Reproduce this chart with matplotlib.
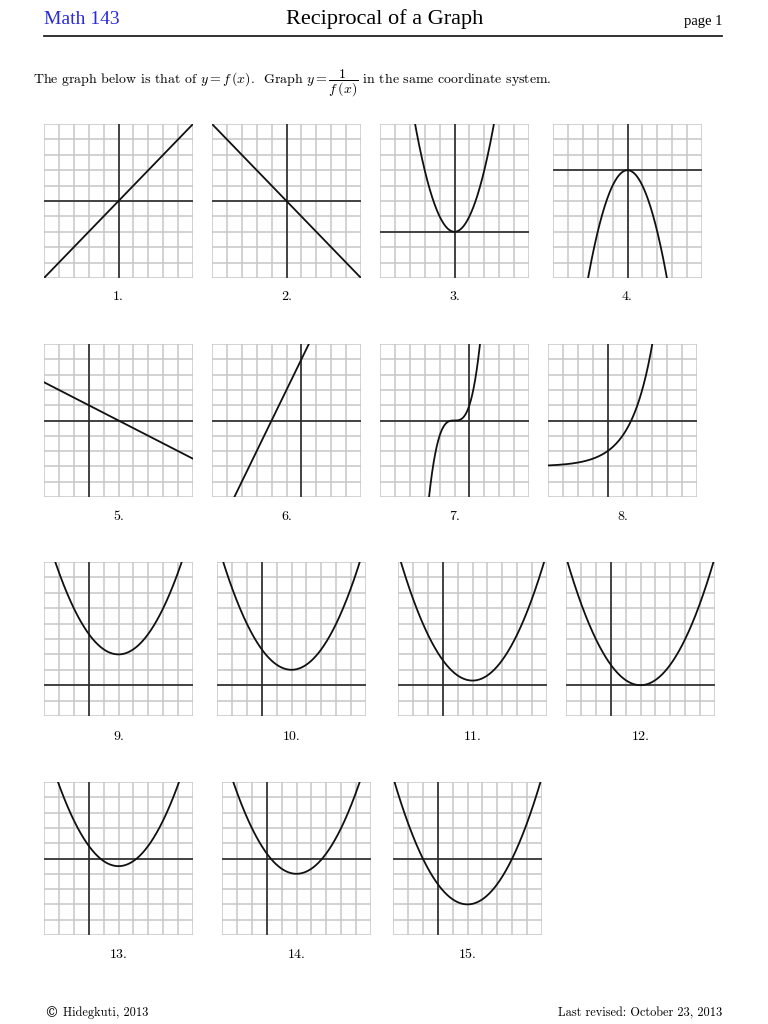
import numpy as np
import matplotlib
matplotlib.use("Agg")
import matplotlib.pyplot as plt
from matplotlib.lines import Line2D

plt.rcParams['mathtext.fontset'] = 'cm'
plt.rcParams['axes.unicode_minus'] = False

# ---------------- data ----------------
labels = ["1.", "2.", "3.", "4.", "5.", "6.", "7.", "8.",
          "9.", "10.", "11.", "12.", "13.", "14.", "15."]
# window of each coordinate grid (10 x 10 units)
x_min = [-5, -5, -5, -5, -3, -6, -6, -4, -3, -3, -3, -3, -3, -3, -3]
y_min = [-5, -5, -3, -7, -5, -5, -5, -5, -2, -2, -2, -2, -5, -5, -5]
# graphs 1, 2, 5, 6: lines y = m x + b
line_slope = [1, -1, -0.5, 2]
line_icept = [0, 0, 1, 4]
# graphs 3, 4: y = c x^2
parab_coef = [1, -1]
# graph 7: y = (x - h)^3
cubic_shift = -1
# graph 8: y = base^x + k
exp_base = 2
exp_shift = -3
# graphs 9-15: y = a (x - h)^2 + k
up_a = 1 / 3
up_h = 2
up_k = [2, 1, 0.3, 0, -0.5, -1, -3]

# ---------------- layout (pixels) ----------------
W, H = 768, 1024
row_top = [124, 344, 562, 782]
row_bot = [278, 497, 716, 935]
row_lab = [297, 517, 737, 955]
col_left = [[44, 212, 380, 553], [44, 212, 380, 548],
            [44, 217, 398, 566], [44, 222, 393]]
gw = 149

funcs = []
funcs.append(lambda x, i=0: line_slope[i] * x + line_icept[i])
funcs.append(lambda x, i=1: line_slope[i] * x + line_icept[i])
funcs.append(lambda x: parab_coef[0] * x ** 2)
funcs.append(lambda x: parab_coef[1] * x ** 2)
funcs.append(lambda x, i=2: line_slope[i] * x + line_icept[i])
funcs.append(lambda x, i=3: line_slope[i] * x + line_icept[i])
funcs.append(lambda x: (x - cubic_shift) ** 3)
funcs.append(lambda x: exp_base ** x + exp_shift)
for k in up_k:
    funcs.append(lambda x, k=k: up_a * (x - up_h) ** 2 + k)

fig = plt.figure(figsize=(W / 100, H / 100), dpi=100)

cm_fam = ['cmr10', 'DejaVu Serif']
grid_c = '#c6c6c6'

idx = 0
for r in range(4):
    for c, xl in enumerate(col_left[r]):
        top, bot = row_top[r], row_bot[r]
        ax = fig.add_axes([xl / W, 1 - bot / H, gw / W, (bot - top) / H])
        x0, y0 = x_min[idx], y_min[idx]
        ax.set_xlim(x0, x0 + 10)
        ax.set_ylim(y0, y0 + 10)
        for v in range(x0, x0 + 11):
            ax.axvline(v, color=grid_c, lw=1.1, zorder=1)
        for v in range(y0, y0 + 11):
            ax.axhline(v, color=grid_c, lw=1.1, zorder=1)
        ax.axhline(0, color='#2a2a2a', lw=1.2, zorder=2)
        ax.axvline(0, color='#2a2a2a', lw=1.2, zorder=2)
        xs = np.linspace(x0, x0 + 10, 800)
        with np.errstate(all='ignore'):
            ys = funcs[idx](xs)
        ax.plot(xs, ys, color='#111111', lw=1.3, zorder=3)
        for s in ax.spines.values():
            s.set_visible(False)
        ax.set_xticks([])
        ax.set_yticks([])
        ax.patch.set_alpha(0)
        fig.text((xl + gw / 2) / W, 1 - row_lab[r] / H, labels[idx],
                 ha='center', va='center', fontsize=10, family=cm_fam)
        idx += 1

# header
fig.text(44 / W, 1 - 20 / H, "Math 143", ha='left', va='center',
         fontsize=14, color='#2b2bd9', family='Liberation Serif')
fig.text(385 / W, 1 - 19 / H, "Reciprocal of a Graph", ha='center', va='center',
         fontsize=16, family='Liberation Serif')
fig.text(722 / W, 1 - 22 / H, "page 1", ha='right', va='center',
         fontsize=10.5, family='Liberation Serif')
fig.add_artist(Line2D([44 / W, 722 / W], [1 - 36 / H, 1 - 36 / H],
                      color='#222222', lw=1.3))

fig.text(33 / W, 1 - 84 / H,
         r"The graph below is that of $y=f\,(x)$.  Graph $y=\dfrac{1}{f\,(x)}$ in the same coordinate system.",
         ha='left', va='baseline', fontsize=10, family=cm_fam)

# footer
fig.text(44 / W, 1 - 1013 / H, "\u00a9", ha='left', va='center',
         fontsize=10, family='DejaVu Serif')
fig.text(63 / W, 1 - 1013 / H, "Hidegkuti, 2013", ha='left', va='center',
         fontsize=8.9, family=cm_fam)
fig.text(722 / W, 1 - 1013 / H, "Last revised: October 23, 2013", ha='right',
         va='center', fontsize=8.9, family=cm_fam)

fig.savefig("out.png", dpi=100)
